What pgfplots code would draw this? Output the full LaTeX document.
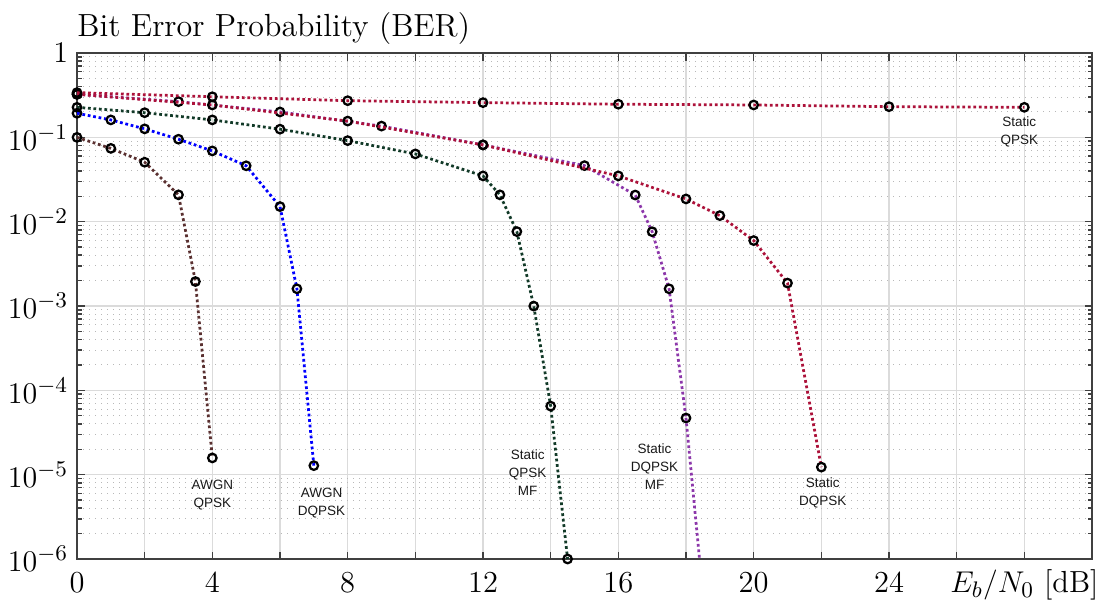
\documentclass[border=0pt]{standalone}
\usepackage{fontspec}
\usepackage{pgfplots}
\pgfplotsset{compat=1.18}
\newfontfamily\arial{Liberation Sans}
\definecolor{cRed}{RGB}{172,18,58}
\definecolor{cPurple}{RGB}{140,55,170}
\definecolor{cGreen}{RGB}{18,58,40}
\definecolor{cBlue}{RGB}{0,0,255}
\definecolor{cBrown}{RGB}{90,48,48}
\begin{document}
\begin{tikzpicture}
\begin{axis}[
  scale only axis, width=406pt, height=202.4pt,
  ymode=log, xmin=0, xmax=30, ymin=1e-6, ymax=1,
  xtick={0,2,...,30},
  minor x tick num=0,
  xticklabels={0,,4,,8,,12,,16,,20,,24,,{$E_b/N_0$ [dB]},},
  ytick={1e-6,1e-5,1e-4,1e-3,1e-2,1e-1,1},
  yticklabels={$10^{-6}$,$10^{-5}$,$10^{-4}$,$10^{-3}$,$10^{-2}$,$10^{-1}$,$1$},
  xmajorgrids, ymajorgrids, yminorgrids,
  major grid style={black!14, line width=0.6pt},
  minor grid style={black!28, dotted, line width=0.4pt},
  tick align=inside, tick pos=both,
  major tick length=3pt, minor tick length=1.8pt,
  every tick/.style={black!75, line width=0.6pt},
  axis line style={black!75, line width=0.8pt},
  tick label style={font=\fontsize{12.2}{14}\selectfont},
  xticklabel style={anchor=base, yshift=-13.4pt},
  title={Bit Error Probability (BER)},
  title style={at={(0,1)}, anchor=base west, yshift=0.6pt, inner sep=0pt, font=\fontsize{12.8}{14}\selectfont},
  clip mode=individual,
  every axis plot/.append style={line width=1.1pt, dash pattern=on 1.1pt off 1.1pt,
     mark=o, mark size=1.7pt, mark options={solid, black, line width=0.9pt}},
]
% Static DQPSK MF (purple)
\addplot[cPurple] coordinates {(0,0.324)(3,0.265)(6,0.2)(9,0.136)(12,0.0813)(15,0.0462)(16.5,0.0207)(17,0.0076)(17.5,0.0016)(18,4.7e-5)};
\addplot[cPurple, no markers] coordinates {(18,4.7e-5)(18.5,3.8e-7)};
% Static DQPSK (red)
\addplot[cRed] coordinates {(0,0.324)(4,0.242)(8,0.156)(12,0.0813)(16,0.0349)(18,0.0186)(19,0.0118)(20,0.00597)(21,0.00187)(22,1.23e-5)};
% Static QPSK (red)
\addplot[cRed] coordinates {(0,0.339)(4,0.303)(8,0.272)(12,0.258)(16,0.247)(20,0.242)(24,0.231)(28,0.227)};
% Static QPSK MF (green)
\addplot[cGreen] coordinates {(0,0.227)(2,0.196)(4,0.161)(6,0.125)(8,0.0914)(10,0.0636)(12,0.0349)(12.5,0.0208)(13,0.00763)(13.5,0.000998)(14,6.5e-5)(14.5,1.0e-6)};
% AWGN DQPSK (blue)
\addplot[cBlue] coordinates {(0,0.193)(1,0.161)(2,0.126)(3,0.095)(4,0.069)(5,0.046)(6,0.0151)(6.5,0.0016)(7,1.28e-5)};
% AWGN QPSK (brown)
\addplot[cBrown] coordinates {(0,0.1)(1,0.074)(2,0.0507)(3,0.0208)(3.5,0.00195)(4,1.58e-5)};
% annotations
\begin{scope}[every node/.style={align=center, font=\arial\fontsize{5.4}{7.2}\selectfont, text=black!90}]
\node at (axis cs:27.85,0.116) {Static\\QPSK};
\node at (axis cs:4.0,5.8e-6) {AWGN\\QPSK};
\node at (axis cs:7.23,4.57e-6) {AWGN\\DQPSK};
\node at (axis cs:13.32,1.06e-5) {Static\\QPSK\\MF};
\node at (axis cs:17.07,1.23e-5) {Static\\DQPSK\\MF};
\node at (axis cs:22.04,6.1e-6) {Static\\DQPSK};
\end{scope}
\end{axis}
\pgfresetboundingbox
\path[use as bounding box] ([xshift=-30.8pt,yshift=-18.4pt]current axis.south west) rectangle ([xshift=4.8pt,yshift=21.2pt]current axis.north east);
\end{tikzpicture}
\end{document}
